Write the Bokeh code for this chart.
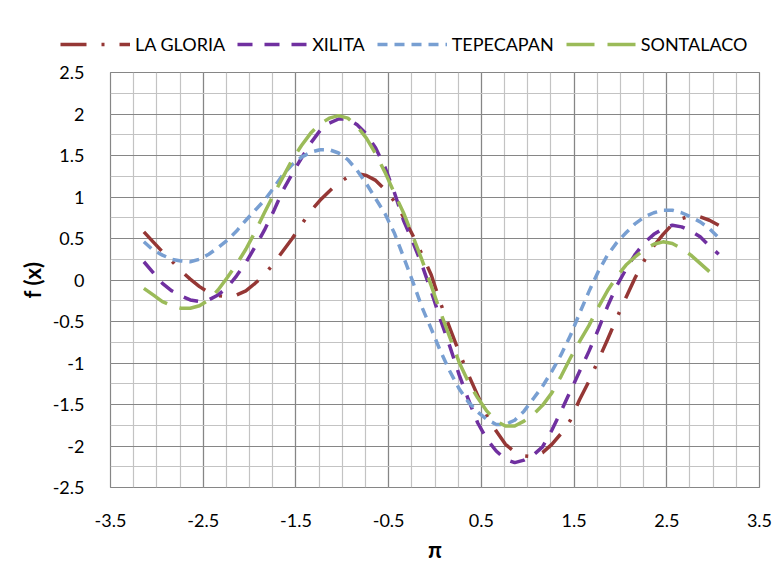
from bokeh.plotting import figure
from bokeh.models import Range1d, FixedTicker, Legend, LegendItem, ColumnDataSource
from bokeh.layouts import column, row
from bokeh.embed import file_html
from bokeh.resources import INLINE

# ---- data ----
X = [-3.14, -3.04, -2.94, -2.84, -2.74, -2.64, -2.54, -2.44, -2.34, -2.24, -2.14,
     -2.04, -1.94, -1.84, -1.74, -1.64, -1.54, -1.44, -1.34, -1.24, -1.14, -1.04,
     -0.94, -0.84, -0.74, -0.64, -0.54, -0.44, -0.34, -0.24, -0.14, -0.04, 0.06,
     0.16, 0.26, 0.36, 0.46, 0.56, 0.66, 0.76, 0.86, 0.96, 1.06, 1.16, 1.26, 1.36,
     1.46, 1.56, 1.66, 1.76, 1.86, 1.96, 2.06, 2.16, 2.26, 2.36, 2.46, 2.56, 2.66,
     2.76, 2.86, 2.96, 3.06]

LA_GLORIA = [0.58, 0.46, 0.34, 0.23, 0.11, 0.01, -0.08, -0.15, -0.19, -0.20, -0.18,
             -0.13, -0.04, 0.06, 0.20, 0.35, 0.50, 0.67, 0.83, 0.96, 1.07, 1.17,
             1.24, 1.28, 1.26, 1.20, 1.09, 0.95, 0.76, 0.54, 0.31, 0.06, -0.28,
             -0.58, -0.87, -1.14, -1.39, -1.63, -1.82, -1.98, -2.07, -2.12, -2.13,
             -2.08, -1.98, -1.85, -1.69, -1.44, -1.22, -0.97, -0.72, -0.46, -0.21,
             0.03, 0.24, 0.41, 0.55, 0.67, 0.74, 0.77, 0.76, 0.72, 0.66]

XILITA = [0.22, 0.09, -0.04, -0.13, -0.19, -0.24, -0.26, -0.24, -0.18, -0.09, 0.05,
          0.21, 0.40, 0.60, 0.83, 1.08, 1.28, 1.47, 1.65, 1.80, 1.89, 1.94,
          1.94, 1.87, 1.76, 1.59, 1.36, 1.06, 0.72, 0.46, 0.18, -0.14, -0.48,
          -0.80, -1.14, -1.44, -1.72, -1.92, -2.06, -2.16, -2.20, -2.17, -2.11,
          -2.01, -1.81, -1.58, -1.34, -1.10, -0.86, -0.60, -0.32, -0.07, 0.13,
          0.31, 0.45, 0.55, 0.62, 0.66, 0.64, 0.59, 0.52, 0.41, 0.31]

TEPECAPAN = [0.46, 0.36, 0.30, 0.25, 0.23, 0.22, 0.25, 0.31, 0.39, 0.48, 0.59,
             0.72, 0.84, 0.96, 1.11, 1.27, 1.39, 1.48, 1.54, 1.57, 1.57, 1.53,
             1.45, 1.32, 1.16, 0.98, 0.80, 0.57, 0.28, -0.02, -0.33, -0.59, -0.86,
             -1.10, -1.31, -1.47, -1.59, -1.68, -1.74, -1.74, -1.69, -1.58, -1.43,
             -1.28, -1.10, -0.90, -0.67, -0.40, -0.14, 0.10, 0.30, 0.45, 0.57,
             0.68, 0.76, 0.81, 0.84, 0.84, 0.81, 0.76, 0.70, 0.62, 0.51]

SONTALACO = [-0.10, -0.18, -0.26, -0.31, -0.34, -0.34, -0.31, -0.24, -0.12, 0.03, 0.19,
             0.37, 0.58, 0.81, 1.03, 1.24, 1.45, 1.62, 1.77, 1.88, 1.95, 1.98,
             1.95, 1.85, 1.71, 1.52, 1.30, 1.05, 0.81, 0.53, 0.24, -0.07, -0.39,
             -0.69, -0.99, -1.23, -1.42, -1.58, -1.70, -1.76, -1.76, -1.70, -1.62,
             -1.51, -1.36, -1.16, -0.94, -0.74, -0.55, -0.33, -0.13, 0.04, 0.18,
             0.28, 0.37, 0.43, 0.46, 0.44, 0.38, 0.30, 0.20, 0.10, 0.00]

SERIES_NAMES = ["LA GLORIA", "XILITA", "TEPECAPAN", "SONTALACO"]

X_TICKS = [-3.5, -2.5, -1.5, -0.5, 0.5, 1.5, 2.5, 3.5]
X_TICK_LABELS = ["-3.5", "-2.5", "-1.5", "-0.5", "0.5", "1.5", "2.5", "3.5"]
X_MINOR = [-3.5 + 0.25 * i for i in range(29)]
Y_TICKS = [-2.5, -2.0, -1.5, -1.0, -0.5, 0.0, 0.5, 1.0, 1.5, 2.0, 2.5]
Y_TICK_LABELS = ["-2.5", "-2", "-1.5", "-1", "-0.5", "0", "0.5", "1", "1.5", "2", "2.5"]
Y_MINOR = [-2.5 + 0.25 * i for i in range(21)]

X_TITLE = "\u03c0"
Y_TITLE = "f (x)"

# ---- styling ----
FONT = "Lato"
COLORS = ["#953735", "#7030A0", "#789FD2", "#9BBB59"]
DASHES = ["26 15 3 15", "15 12", "10 7", "28 13"]
WIDTHS = [3.5, 3.5, 3.5, 3.5]
SERIES = [LA_GLORIA, XILITA, TEPECAPAN, SONTALACO]

# ---- main chart ----
p = figure(frame_width=649, frame_height=415, output_backend="svg",
           toolbar_location=None,
           x_range=Range1d(-3.5, 3.5), y_range=Range1d(-2.5, 2.5),
           min_border_left=110, min_border_right=20,
           min_border_top=16, min_border_bottom=72)
p.background_fill_color = "white"
p.border_fill_color = "white"
p.outline_line_color = "#868686"
p.outline_line_width = 1.2

xt = FixedTicker(ticks=X_TICKS, minor_ticks=X_MINOR)
yt = FixedTicker(ticks=Y_TICKS, minor_ticks=Y_MINOR)
p.xaxis.ticker = xt
p.yaxis.ticker = yt
p.xgrid.ticker = xt
p.ygrid.ticker = yt
p.xaxis.major_label_overrides = {t: l for t, l in zip(X_TICKS, X_TICK_LABELS)}
p.yaxis.major_label_overrides = {t: l for t, l in zip(Y_TICKS, Y_TICK_LABELS)}

for g in (p.xgrid, p.ygrid):
    g.grid_line_color = "#868686"
    g.grid_line_width = 1.2
    g.minor_grid_line_color = "#C3C3C3"
    g.minor_grid_line_width = 1.2

for ax in (p.xaxis, p.yaxis):
    ax.axis_line_color = None
    ax.major_tick_line_color = None
    ax.minor_tick_line_color = None
    ax.major_label_text_font = FONT
    ax.major_label_text_font_size = "18px"
    ax.major_label_text_color = "#000000"
    ax.axis_label_text_font = FONT
    ax.axis_label_text_font_style = "bold"
    ax.axis_label_text_font_size = "22px"
    ax.axis_label_text_color = "#000000"

p.xaxis.axis_label = X_TITLE
p.yaxis.axis_label = Y_TITLE
p.xaxis.major_label_standoff = 20
p.yaxis.major_label_standoff = 20
p.xaxis.axis_label_standoff = 6
p.yaxis.axis_label_standoff = 4

for ys, c, d, w in zip(SERIES, COLORS, DASHES, WIDTHS):
    src = ColumnDataSource(dict(x=X, y=ys))
    p.line("x", "y", source=src, line_color=c, line_width=w, line_dash=d,
           line_join="round")

# ---- legend strip (same series, kept out of view; only the legend shows) ----
lg = figure(width=780, height=56, output_backend="svg", toolbar_location=None,
            x_range=Range1d(-3.5, 3.5), y_range=Range1d(10, 11),
            x_axis_location=None, y_axis_location=None,
            min_border_left=0, min_border_right=0,
            min_border_top=0, min_border_bottom=0)
lg.grid.visible = False
lg.outline_line_color = None
lg.background_fill_color = "white"
lg.border_fill_color = "white"

items = []
for name, ys, c, d, w in zip(SERIES_NAMES, SERIES, COLORS, DASHES, WIDTHS):
    src = ColumnDataSource(dict(x=X, y=ys))
    r = lg.line("x", "y", source=src, line_color=c, line_width=w, line_dash=d)
    items.append(LegendItem(label=name, renderers=[r]))

legend = Legend(items=items, orientation="horizontal", location=(60, 1),
                glyph_width=70, glyph_height=20, label_standoff=5, spacing=12,
                padding=0, margin=0, background_fill_alpha=0,
                border_line_color=None,
                label_text_font=FONT, label_text_font_size="18px",
                label_text_color="#000000")
lg.add_layout(legend, "center")

layout = column(row(lg), p, spacing=0)
open("out.html", "w").write(file_html(layout, INLINE))
